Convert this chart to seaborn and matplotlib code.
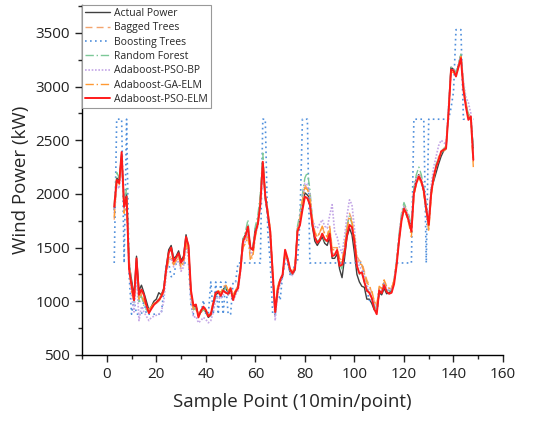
import matplotlib
matplotlib.use("Agg")
import matplotlib.pyplot as plt
from matplotlib.ticker import MultipleLocator
import seaborn as sns
import numpy as np

# sample index of every point
sample_point = list(range(3, 149))

actual_power = [1850, 2150, 2120, 2370, 1900, 2000, 1350, 1200, 1050, 1420,
                1100, 1150, 1080, 1000, 920, 950, 1000, 1020, 1080, 1060,
                1120, 1320, 1480, 1520, 1400, 1420, 1470, 1380, 1420, 1620,
                1500, 1080, 940, 960, 870, 900, 930, 900, 850, 870,
                960, 1060, 1080, 1060, 1110, 1140, 1060, 1100, 1040, 1080,
                1150, 1320, 1580, 1620, 1680, 1480, 1500, 1680, 1740, 1950,
                2280, 1950, 1800, 1620, 1220, 870, 1120, 1180, 1230, 1460,
                1380, 1270, 1250, 1290, 1680, 1760, 1900, 2010, 1990, 1960,
                1700, 1560, 1520, 1560, 1600, 1540, 1520, 1600, 1400, 1400,
                1440, 1300, 1220, 1400, 1600, 1680, 1620, 1450, 1250, 1180,
                1140, 1130, 1020, 1020, 980, 920, 900, 1080, 1060, 1120,
                1070, 1080, 1100, 1180, 1350, 1580, 1780, 1880, 1800, 1760,
                1680, 2040, 2140, 2180, 2120, 2020, 1840, 1720, 2040, 2120,
                2200, 2280, 2350, 2400, 2420, 2780, 3180, 3160, 3120, 3200,
                3300, 3000, 2840, 2720, 2700, 2420]

bagged_trees = [1760, 2100, 2150, 2300, 1850, 1950, 1400, 1150, 1000, 1300,
                1000, 1080, 1000, 960, 920, 940, 960, 980, 1000, 1030,
                1080, 1280, 1400, 1420, 1380, 1380, 1400, 1300, 1360, 1560,
                1450, 1050, 950, 920, 880, 920, 930, 920, 870, 900,
                1000, 1100, 1100, 1070, 1120, 1150, 1100, 1130, 1060, 1100,
                1150, 1300, 1520, 1560, 1640, 1400, 1440, 1620, 1760, 1980,
                2300, 2000, 1850, 1680, 1300, 950, 1150, 1200, 1240, 1420,
                1400, 1300, 1280, 1330, 1660, 1780, 1960, 2080, 2050, 2000,
                1780, 1650, 1600, 1640, 1700, 1620, 1600, 1700, 1500, 1500,
                1500, 1400, 1380, 1520, 1700, 1820, 1760, 1600, 1420, 1380,
                1360, 1280, 1200, 1150, 1080, 1000, 950, 1120, 1120, 1180,
                1150, 1120, 1120, 1200, 1360, 1580, 1800, 1900, 1850, 1780,
                1650, 1980, 2120, 2200, 2150, 2050, 1900, 1680, 2000, 2150,
                2250, 2350, 2400, 2420, 2450, 2780, 3150, 3150, 3120, 3200,
                3290, 3050, 2850, 2750, 2720, 2300]

boosting_trees = [1357, 2696, 2696, 2696, 1357, 2696, 1250, 880, 1010, 880,
                  880, 880, 1010, 880, 880, 880, 880, 880, 880, 880,
                  1100, 1357, 1357, 1230, 1230, 1357, 1357, 1357, 1357, 1357,
                  1357, 960, 880, 880, 880, 880, 1010, 880, 880, 1180,
                  880, 1180, 880, 1180, 880, 1180, 880, 880, 1180, 1180,
                  1357, 1357, 1357, 1357, 1357, 1357, 1357, 1357, 1357, 1357,
                  2696, 2696, 1650, 1357, 880, 880, 1100, 1010, 1250, 1357,
                  1357, 1250, 1250, 1357, 1357, 1760, 2696, 2696, 2696, 1357,
                  1357, 1357, 1357, 1357, 1357, 1357, 1357, 1357, 1357, 1357,
                  1357, 1357, 1357, 1357, 1357, 1357, 1357, 1357, 1357, 1357,
                  1357, 1180, 1100, 1010, 1010, 960, 880, 1100, 1100, 1180,
                  1100, 1100, 1100, 1180, 1357, 1357, 1357, 1357, 1357, 1357,
                  1357, 2696, 2696, 2696, 2696, 2696, 1357, 2696, 2696, 2696,
                  2696, 2696, 2696, 2696, 2696, 2696, 2800, 2950, 3530, 3530,
                  3530, 2696, 2696, 2696, 2696, 2696]

random_forest = [1900, 2200, 2150, 2320, 1920, 2050, 1380, 1150, 980, 1380,
                 980, 1050, 960, 920, 900, 940, 960, 990, 1020, 1040,
                 1100, 1300, 1450, 1480, 1380, 1400, 1430, 1340, 1380, 1580,
                 1480, 1080, 920, 940, 860, 900, 920, 900, 860, 880,
                 980, 1070, 1080, 1060, 1100, 1120, 1080, 1100, 1040, 1090,
                 1120, 1320, 1580, 1650, 1760, 1480, 1500, 1700, 1800, 2000,
                 2380, 2000, 1850, 1650, 1250, 900, 1120, 1200, 1240, 1440,
                 1400, 1280, 1250, 1300, 1700, 1820, 2000, 2150, 2200, 2050,
                 1760, 1600, 1560, 1580, 1640, 1560, 1560, 1650, 1450, 1440,
                 1460, 1350, 1300, 1480, 1700, 1800, 1720, 1550, 1330, 1250,
                 1260, 1200, 1120, 1080, 1040, 960, 920, 1100, 1080, 1160,
                 1100, 1100, 1100, 1180, 1380, 1620, 1820, 1920, 1860, 1800,
                 1700, 2060, 2180, 2250, 2180, 2060, 1880, 1740, 2040, 2180,
                 2280, 2330, 2380, 2420, 2440, 2800, 3180, 3170, 3130, 3210,
                 3300, 3020, 2850, 2740, 2720, 2420]

pso_bp = [1820, 2080, 2050, 2280, 1850, 1920, 1300, 1050, 900, 1250,
          820, 950, 900, 860, 820, 850, 860, 870, 880, 900,
          1000, 1250, 1380, 1400, 1320, 1360, 1380, 1280, 1320, 1520,
          1400, 1000, 850, 860, 800, 820, 850, 830, 800, 820,
          900, 1020, 1040, 1020, 1060, 1100, 1060, 1080, 1000, 1060,
          1100, 1280, 1520, 1560, 1640, 1440, 1460, 1620, 1700, 1900,
          2250, 1950, 1800, 1620, 1200, 820, 1080, 1160, 1220, 1400,
          1380, 1260, 1240, 1300, 1640, 1780, 1950, 2100, 2080, 2000,
          1760, 1700, 1680, 1720, 1760, 1700, 1680, 1800, 1900, 1650,
          1600, 1500, 1450, 1600, 1800, 1945, 1900, 1680, 1400, 1320,
          1300, 1250, 1150, 1100, 1050, 980, 940, 1120, 1100, 1160,
          1120, 1100, 1120, 1200, 1380, 1600, 1800, 1880, 1840, 1780,
          1680, 2020, 2140, 2180, 2140, 2060, 1880, 1760, 2080, 2250,
          2350, 2450, 2500, 2480, 2460, 2820, 3150, 3160, 3100, 3200,
          3280, 3050, 2900, 2850, 2750, 2350]

ga_elm = [1780, 2120, 2080, 2340, 1820, 1940, 1320, 1100, 1000, 1350,
          1020, 1060, 1000, 950, 920, 950, 980, 1000, 1020, 1060,
          1100, 1280, 1380, 1400, 1340, 1380, 1420, 1320, 1370, 1540,
          1430, 1050, 920, 940, 880, 900, 930, 900, 870, 880,
          980, 1080, 1100, 1080, 1130, 1160, 1100, 1120, 1060, 1100,
          1140, 1300, 1500, 1540, 1600, 1380, 1420, 1600, 1720, 1920,
          2280, 1980, 1840, 1660, 1280, 920, 1140, 1200, 1250, 1430,
          1400, 1290, 1270, 1320, 1660, 1760, 1940, 2060, 2040, 1980,
          1760, 1640, 1600, 1640, 1700, 1630, 1600, 1700, 1480, 1480,
          1500, 1380, 1360, 1500, 1680, 1780, 1740, 1600, 1400, 1350,
          1340, 1260, 1180, 1140, 1100, 1000, 960, 1140, 1120, 1200,
          1140, 1120, 1120, 1200, 1360, 1560, 1760, 1860, 1800, 1720,
          1600, 1980, 2100, 2150, 2100, 2000, 1840, 1650, 1980, 2140,
          2250, 2320, 2380, 2400, 2420, 2760, 3140, 3130, 3100, 3180,
          3280, 3000, 2830, 2720, 2700, 2250]

pso_elm = [1880, 2130, 2100, 2390, 1880, 1975, 1300, 1150, 1010, 1400,
           1060, 1110, 1060, 960, 890, 930, 966, 990, 1012, 1043,
           1106, 1300, 1450, 1500, 1370, 1410, 1448, 1360, 1400, 1600,
           1520, 1100, 960, 970, 850, 910, 950, 920, 860, 880,
           980, 1080, 1090, 1050, 1100, 1080, 1070, 1120, 1012, 1090,
           1122, 1300, 1556, 1610, 1696, 1500, 1478, 1640, 1720, 1900,
           2300, 1980, 1820, 1650, 1261, 900, 1100, 1200, 1250, 1480,
           1400, 1300, 1260, 1300, 1650, 1710, 1850, 1975, 1960, 1900,
           1720, 1600, 1545, 1570, 1630, 1580, 1560, 1630, 1420, 1432,
           1478, 1330, 1340, 1450, 1620, 1712, 1690, 1550, 1330, 1260,
           1270, 1180, 1100, 1080, 1030, 930, 880, 1100, 1075, 1150,
           1090, 1070, 1080, 1160, 1330, 1560, 1750, 1860, 1820, 1740,
           1650, 2007, 2100, 2162, 2120, 2030, 1860, 1712, 2007, 2162,
           2255, 2317, 2395, 2410, 2426, 2752, 3156, 3150, 3094, 3180,
           3265, 2970, 2814, 2690, 2721, 2317]

series = [
    ("Actual Power", actual_power, "#404040", "-", 1.0),
    ("Bagged Trees", bagged_trees, "#f4a46e", (0, (5, 3)), 1.0),
    ("Boosting Trees", boosting_trees, "#4f8fdc", (0, (1, 2)), 1.2),
    ("Random Forest", random_forest, "#7cc898", (0, (6, 2, 1, 2)), 1.0),
    ("Adaboost-PSO-BP", pso_bp, "#c3a6e6", (0, (1, 1)), 1.2),
    ("Adaboost-GA-ELM", ga_elm, "#ff9933", (0, (6, 2, 1, 2)), 1.0),
    ("Adaboost-PSO-ELM", pso_elm, "#ff1a1a", "-", 1.4),
]

sns.set_style("ticks")
plt.rcParams['font.family'] = ['Open Sans', 'DejaVu Sans']

fig = plt.figure(figsize=(5.34, 4.21), dpi=100)
ax = fig.add_axes([0.1536, 0.1568, 0.7884, 0.8314])

for name, vals, col, ls, lw in series:
    sns.lineplot(x=sample_point, y=vals, ax=ax, color=col, linestyle=ls,
                 linewidth=lw, label=name)

ax.set_xlim(-10, 160)
ax.set_ylim(500, 3760)
ax.xaxis.set_major_locator(MultipleLocator(20))
ax.xaxis.set_minor_locator(MultipleLocator(10))
ax.yaxis.set_major_locator(MultipleLocator(500))
ax.yaxis.set_minor_locator(MultipleLocator(250))
ax.tick_params(which='major', direction='out', length=5, width=1, labelsize=11, colors='#222222')
ax.tick_params(which='minor', direction='out', length=3, width=1)
for s in ['top', 'right']:
    ax.spines[s].set_visible(False)
for s in ['left', 'bottom']:
    ax.spines[s].set_color('black')
    ax.spines[s].set_linewidth(1.0)

ax.set_xlabel('Sample Point (10min/point)', fontsize=13.5, labelpad=8)
ax.set_ylabel('Wind Power (kW)', fontsize=13.5, labelpad=4)

leg = ax.legend(loc='upper left', fontsize=7.5, frameon=True, fancybox=False,
                borderpad=0.3, labelspacing=0.32, handlelength=2.4,
                handletextpad=0.4, borderaxespad=0.0, bbox_to_anchor=(0.0, 1.0))
leg.get_frame().set_edgecolor('#999999')
leg.get_frame().set_linewidth(0.8)
leg.get_frame().set_alpha(1.0)

fig.savefig('out.png', dpi=100)
